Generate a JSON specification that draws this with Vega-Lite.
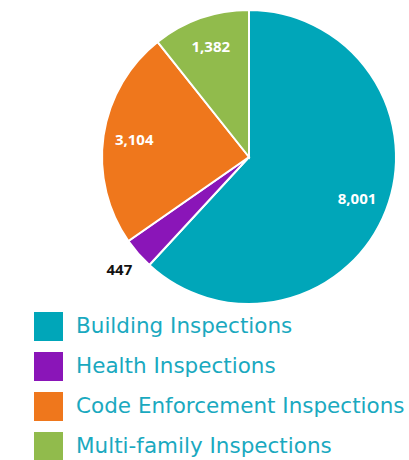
{
  "$schema": "https://vega.github.io/schema/vega-lite/v6.json",
  "autosize": {"type": "none"},
  "width": 294,
  "height": 294,
  "padding": {"left": 102, "top": 10, "right": 13, "bottom": 156},
  "background": "white",
  "data": {
    "values": [
      {"category": "Building Inspections", "value": 8001},
      {"category": "Health Inspections", "value": 447},
      {"category": "Code Enforcement Inspections", "value": 3104},
      {"category": "Multi-family Inspections", "value": 1382}
    ]
  },
  "transform": [
    {"window": [{"op": "row_number", "as": "idx"}]}
  ],
  "encoding": {
    "theta": {"field": "value", "type": "quantitative", "stack": true},
    "order": {"field": "idx", "type": "quantitative"}
  },
  "layer": [
    {
      "mark": {"type": "arc", "stroke": "white", "strokeWidth": 2},
      "encoding": {
        "color": {
          "field": "category",
          "type": "nominal",
          "sort": ["Building Inspections", "Health Inspections", "Code Enforcement Inspections", "Multi-family Inspections"],
          "scale": {
            "domain": ["Building Inspections", "Health Inspections", "Code Enforcement Inspections", "Multi-family Inspections"],
            "range": ["#00a6b9", "#8a15b8", "#ef771c", "#91bb4c"]
          },
          "legend": {
            "title": null,
            "orient": "none",
            "legendX": -68,
            "legendY": 302,
            "direction": "vertical",
            "padding": 0,
            "symbolType": "square",
            "symbolSize": 841,
            "symbolStrokeWidth": 0,
            "symbolOpacity": 1,
            "rowPadding": 11,
            "labelOffset": 13,
            "labelFont": "DejaVu Sans",
            "labelFontSize": 21.5,
            "labelColor": "#1aa9bf",
            "labelLimit": 400
          }
        }
      }
    },
    {
      "mark": {"type": "text", "radius": 116, "font": "Open Sans", "fontWeight": "bold", "fontSize": 15, "align": "center", "baseline": "middle"},
      "encoding": {
        "color": {"value": "white"},
        "text": {"condition": {"test": "datum.value < 1000", "value": ""}, "field": "value", "type": "quantitative", "format": ","}
      }
    },
    {
      "mark": {"type": "text", "radius": 172, "font": "Open Sans", "fontWeight": "bold", "fontSize": 15, "align": "center", "baseline": "middle"},
      "encoding": {
        "color": {"value": "#111111"},
        "text": {"condition": {"test": "datum.value >= 1000", "value": ""}, "field": "value", "type": "quantitative", "format": ","}
      }
    }
  ]
}
